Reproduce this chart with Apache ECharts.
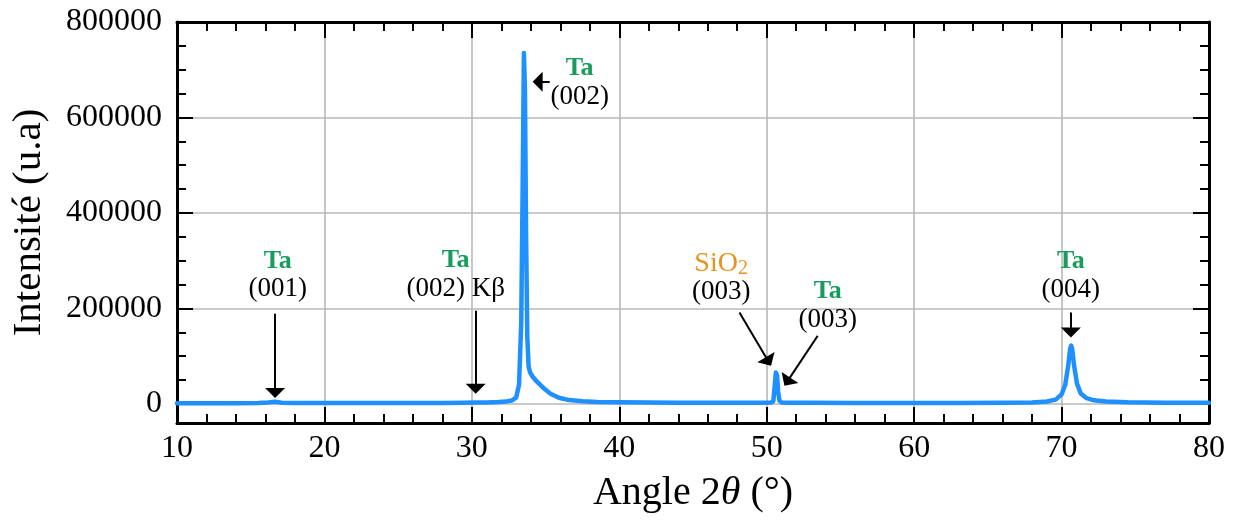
<!DOCTYPE html>
<html>
<head>
<meta charset="utf-8">
<script src="https://cdn.jsdelivr.net/npm/echarts@6/dist/echarts.min.js"></script>
<style>
html,body{margin:0;padding:0;background:#fff;}
#chart{width:1235px;height:520px;}
</style>
</head>
<body>
<div id="chart"></div>
<script>
// ---- data ----
var angle = [10, 12, 14, 15.5, 16.2, 16.65, 17.1, 18, 20, 22, 24, 26, 28, 29.5, 30.26, 31, 31.8, 32.3, 32.7, 33.0, 33.2, 33.35, 33.45, 33.53, 33.6, 33.68, 33.76, 33.85, 33.95, 34.1, 34.4, 34.8, 35.3, 35.9, 36.6, 37.5, 38.5, 40, 42, 44, 46, 48, 49.5, 50.3, 50.45, 50.55, 50.62, 50.7, 50.78, 50.86, 51.0, 51.5, 53, 56, 60, 63, 66, 68, 69, 69.6, 70.0, 70.25, 70.45, 70.58, 70.65, 70.72, 70.85, 71.05, 71.3, 71.7, 72.2, 73, 74.5, 77, 80];
var intensity = [1500, 1500, 1600, 1800, 2800, 4500, 2600, 1800, 1700, 1700, 1800, 1900, 2100, 2400, 2700, 3000, 3800, 4800, 7000, 13000, 40000, 170000, 470000, 735000, 660000, 350000, 140000, 78000, 66000, 58000, 47000, 35000, 22000, 13000, 8000, 5500, 4200, 3300, 2800, 2500, 2300, 2300, 2400, 2800, 6000, 40000, 66000, 60000, 25000, 7000, 3200, 2600, 2300, 2000, 1900, 2000, 2300, 3000, 5000, 9000, 20000, 40000, 80000, 115000, 122000, 115000, 80000, 42000, 22000, 12000, 7500, 5000, 3400, 2500, 2200];

var yMajorTicks = [0, 200000, 400000, 600000, 800000];
var yMinorTicks = [50000, 100000, 150000, 250000, 300000, 350000, 450000, 500000, 550000, 650000, 700000, 750000];

// annotation arrows: [tailX, tailY, headX, headY] in data units
var arrows = [
  [16.65, 189000, 16.65, 23000],
  [30.26, 195000, 30.26, 31500],
  [35.28, 675000, 34.46, 675000],
  [48.15, 191700, 50.12, 88800],
  [53.46, 142800, 51.39, 46600],
  [70.63, 191700, 70.63, 149700]
];
// annotation labels: [x, y, text]
var labels = [
  [16.84, 270000, '{g|Ta}\n{b|(001)}'],
  [28.90, 270900, '{g|Ta}\n{b|(002) Kβ}'],
  [37.31, 673000, '{g|Ta}\n{b|(002)}'],
  [46.91, 265200, '{o|SiO}{os|2}\n{b|(003)}'],
  [54.14, 205800, '{g|Ta}\n{b|(003)}'],
  [70.63, 268800, '{g|Ta}\n{b|(004)}']
];

// ---- chart ----
var FONT = 'Liberation Serif';
var GREEN = '#179C5E', ORANGE = '#E8921F';
var chart = echarts.init(document.getElementById('chart'), null, {renderer: 'canvas'});

var pts = angle.map(function (a, i) { return [a, intensity[i]]; });

function xAxisBase(pos) {
  return {
    type: 'value', position: pos, min: 10, max: 80, interval: 10,
    axisLine: {show: true, onZero: false, lineStyle: {color: '#000', width: 3}},
    axisTick: {show: true, inside: true, length: 16, lineStyle: {color: '#000', width: 2}},
    minorTick: {show: true, splitNumber: 5, length: 9, lineStyle: {color: '#000', width: 2}},
    splitLine: {show: false},
    axisLabel: {show: false}
  };
}
function yAxisBase(pos, ticks, len, showLine) {
  return {
    type: 'value', position: pos, min: -40000, max: 800000,
    axisLine: {show: showLine, onZero: false, lineStyle: {color: '#000', width: 3}},
    axisTick: {show: true, inside: true, length: len, customValues: ticks, lineStyle: {color: '#000', width: 2}},
    splitLine: {show: false},
    axisLabel: {show: false, customValues: ticks}
  };
}

var xBottom = xAxisBase('bottom');
xBottom.splitLine = {show: true, lineStyle: {color: '#b8b8b8', width: 1.6}};
xBottom.axisLabel = {show: true, fontFamily: FONT, fontSize: 32, color: '#000', margin: 10,
  formatter: function (v) { return String(v); }};
xBottom.name = 'Angle 2{i|θ} (°)';
xBottom.nameLocation = 'middle';
xBottom.nameGap = 50;
xBottom.nameTextStyle = {fontFamily: FONT, fontSize: 40, color: '#000',
  rich: {i: {fontFamily: FONT, fontSize: 40, fontStyle: 'italic', color: '#000'}}};
var xTop = xAxisBase('top');

var yLeft = yAxisBase('left', yMajorTicks, 16, true);
yLeft.splitLine = {show: true, lineStyle: {color: '#b8b8b8', width: 1.6}};
yLeft.axisLabel = {show: true, customValues: yMajorTicks, fontFamily: FONT, fontSize: 32, color: '#000', margin: 15,
  formatter: function (v) { return String(v); }};
yLeft.name = 'Intensité (u.a)';
yLeft.nameLocation = 'middle';
yLeft.nameGap = 127;
yLeft.nameTextStyle = {fontFamily: FONT, fontSize: 41, color: '#000'};
var yLeftMinor = yAxisBase('left', yMinorTicks, 9, false);
var yRight = yAxisBase('right', yMajorTicks, 16, true);
var yRightMinor = yAxisBase('right', yMinorTicks, 9, false);

var option = {
  animation: false,
  backgroundColor: '#fff',
  grid: {left: 177, right: 26, top: 22, bottom: 97, containLabel: false, outerBoundsMode: 'none'},
  xAxis: [xBottom, xTop],
  yAxis: [yLeft, yLeftMinor, yRight, yRightMinor],
  series: [{
    type: 'line',
    xAxisIndex: 0, yAxisIndex: 0,
    data: pts,
    showSymbol: false,
    smooth: false,
    z: 3,
    lineStyle: {color: '#1E90FF', width: 4.5, join: 'round', cap: 'round'},
    markLine: {
      silent: true,
      symbol: ['none', 'triangle'],
      symbolSize: [20, 10],
      label: {show: false},
      lineStyle: {color: '#000', width: 2, type: 'solid'},
      emphasis: {disabled: true},
      data: arrows.map(function (a) {
        return [{coord: [a[0], a[1]]}, {coord: [a[2], a[3]]}];
      })
    },
    markPoint: {
      silent: true,
      symbol: 'circle',
      symbolSize: 0,
      itemStyle: {color: 'rgba(0,0,0,0)'},
      label: {
        show: true, position: 'inside', align: 'center', verticalAlign: 'middle',
        fontFamily: FONT, color: '#000',
        rich: {
          g: {fontFamily: FONT, fontSize: 26, fontWeight: 'bold', color: GREEN, lineHeight: 28, align: 'center'},
          b: {fontFamily: FONT, fontSize: 27, color: '#000', lineHeight: 28, align: 'center'},
          o: {fontFamily: FONT, fontSize: 28, color: ORANGE, lineHeight: 30},
          os: {fontFamily: FONT, fontSize: 20, color: ORANGE, lineHeight: 30, verticalAlign: 'bottom', padding: [10, 0, 0, 0]}
        }
      },
      data: labels.map(function (l) {
        return {coord: [l[0], l[1]], label: {formatter: l[2]}};
      })
    }
  }]
};
chart.setOption(option);
</script>
</body>
</html>
